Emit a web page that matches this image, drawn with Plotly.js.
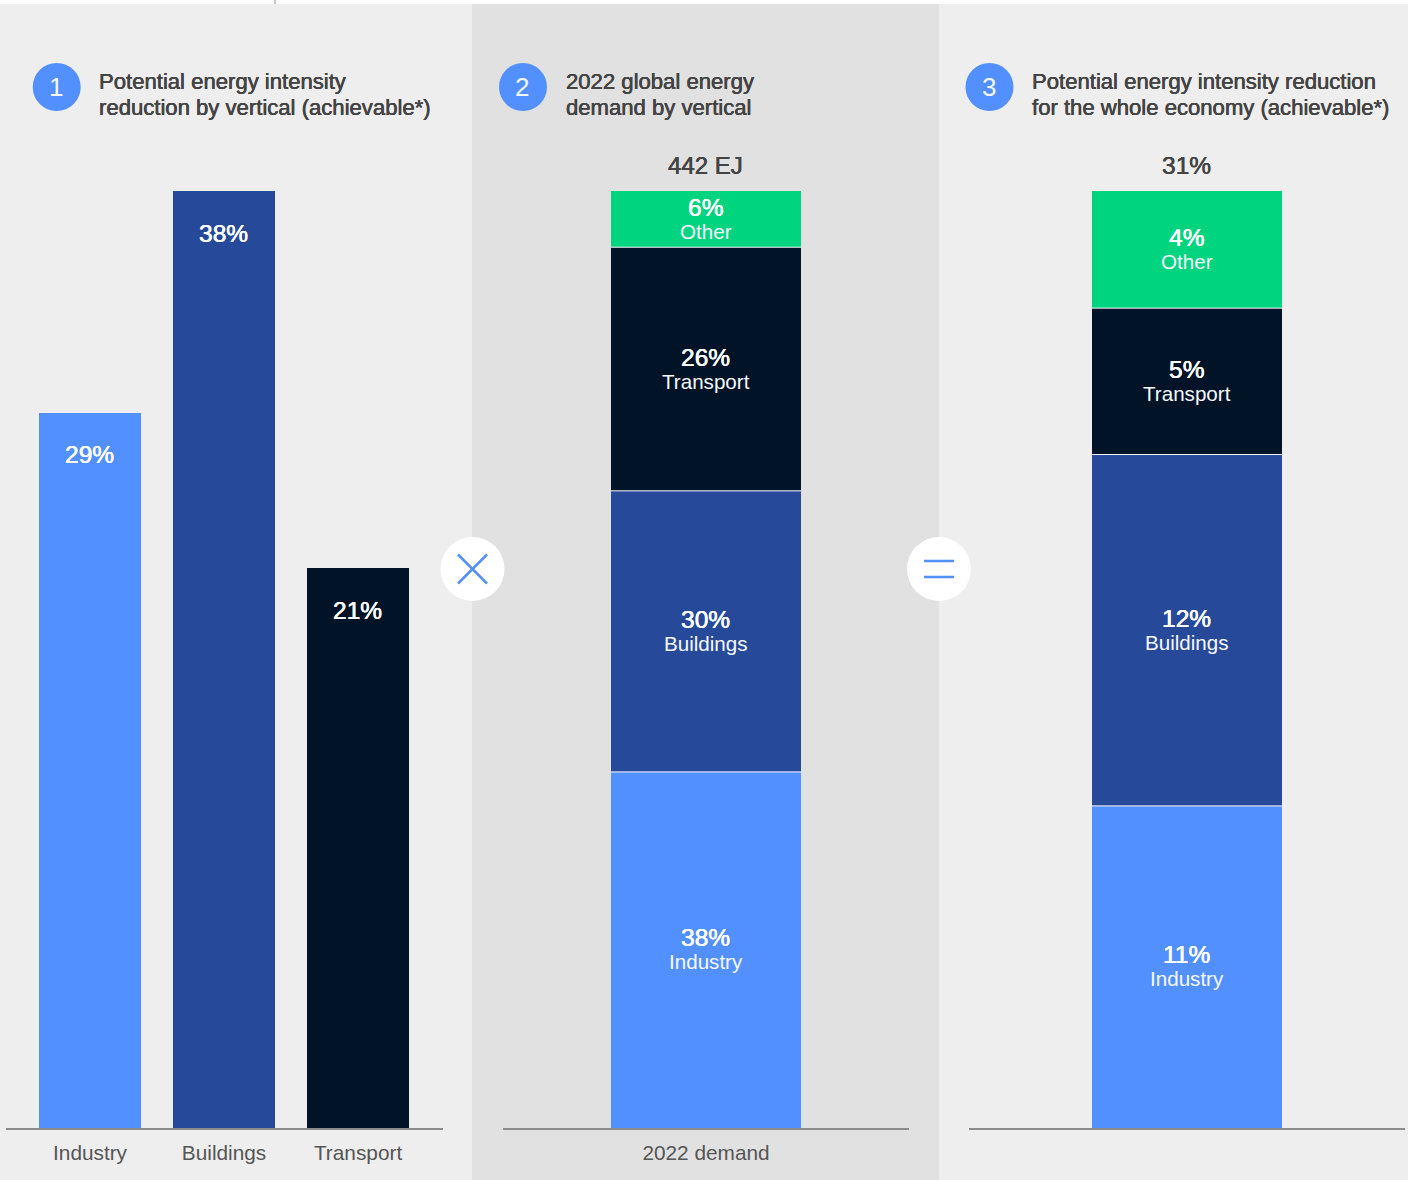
<!DOCTYPE html>
<html>
<head>
<meta charset="utf-8">
<script src="https://cdn.plot.ly/plotly-3.0.1.min.js"></script>
<style>html,body{margin:0;padding:0;background:#fff}#c{width:1408px;height:1180px}</style>
</head>
<body>
<div id="c"></div>
<script>
// Data
const verticals = ['Industry', 'Buildings', 'Transport'];
const panel1Heights = [29, 38, 22.7];
const panel1Labels = ['29%', '38%', '21%'];
const stackNames = ['Industry', 'Buildings', 'Transport', 'Other'];
const demandValues = [38, 30, 26, 6];
const reductionValues = [11, 12, 5, 4];
const demandCategory = ['2022 demand'];
const reductionCategory = ['2022 reduction'];
const demandTotal = '442 EJ';
const reductionTotal = '31%';
const colors = ['#528fff', '#264a99', '#011327', '#00d47e'];
const headings = [
  ['Potential energy intensity', 'reduction by vertical (achievable*)'],
  ['2022 global energy', 'demand by vertical'],
  ['Potential energy intensity reduction', 'for the whole economy (achievable*)']
];

// Page geometry
const W = 1408, H = 1180;
const px = x => x / W, py = y => 1 - y / H;
const FONT = '"Liberation Sans", Arial, sans-serif';
const INK = '#444444';
const BASE = 1128, TOP = 191;
const yDomain = [py(BASE), py(TOP)];
const medium = c => `0.3px 0 0 ${c}, -0.2px 0 0 ${c}`;

const traces = [];
traces.push({
  type: 'bar', x: verticals, y: panel1Heights, xaxis: 'x', yaxis: 'y',
  width: 0.761, marker: {color: colors.slice(0, 3)}, hoverinfo: 'skip', showlegend: false
});
stackNames.forEach((n, i) => {
  traces.push({type: 'bar', x: demandCategory, y: [demandValues[i]], xaxis: 'x2', yaxis: 'y2', name: n,
    width: 0.468, marker: {color: colors[i]}, hoverinfo: 'skip', showlegend: false});
  traces.push({type: 'bar', x: reductionCategory, y: [reductionValues[i]], xaxis: 'x3', yaxis: 'y3', name: n,
    width: 0.436, marker: {color: colors[i]}, hoverinfo: 'skip', showlegend: false});
});

const shapes = [];
const annotations = [];
const rect = (x0, y0, x1, y1, color, layer) => shapes.push({type: 'rect', xref: 'paper', yref: 'paper',
  x0: px(x0), x1: px(x1), y0: py(y0), y1: py(y1), fillcolor: color, line: {width: 0}, layer: layer || 'below'});
const circle = (cx, cy, r, color) => shapes.push({type: 'circle', xref: 'paper', yref: 'paper',
  x0: px(cx - r), x1: px(cx + r), y0: py(cy + r), y1: py(cy - r), fillcolor: color, line: {width: 0}, layer: 'above'});
const seg = (x0, y0, x1, y1, color, w) => shapes.push({type: 'line', xref: 'paper', yref: 'paper',
  x0: px(x0), x1: px(x1), y0: py(y0), y1: py(y1), line: {color: color, width: w}, layer: 'above'});
const label = (x, y, text, size, color, isMedium, anchor) => annotations.push({xref: 'paper', yref: 'paper',
  x: px(x), y: py(y), text: text, showarrow: false, xanchor: anchor || 'center', yanchor: 'middle',
  font: Object.assign({family: FONT, size: size, color: color}, isMedium ? {shadow: medium(color)} : {}), borderpad: 0, borderwidth: 0});

// Panels
rect(0, 4, 472, H, '#eeeeee');
rect(472, 4, 939, H, '#e1e1e1');
rect(939, 4, W, H, '#eeeeee');
seg(275, 0, 275, 4, '#8c8c8c', 1);

// Number badges and headings
[[56.7, 99], [523, 565.5], [989.5, 1032]].forEach((p, i) => {
  circle(p[0], 87, 24, '#528fff');
  label(p[0] - 0.7, 87, String(i + 1), 26, '#f4f8ff', false);
  label(p[1], 81.6, headings[i][0], 22.1, INK, true, 'left');
  label(p[1], 107.6, headings[i][1], 22.1, INK, true, 'left');
});

// Operators
circle(472.5, 569, 32, '#ffffff');
seg(458, 554.5, 487, 583.5, '#528fff', 2.5);
seg(458, 583.5, 487, 554.5, '#528fff', 2.5);
circle(939, 569, 32, '#ffffff');
seg(924, 561, 954, 561, '#528fff', 2.5);
seg(924, 577, 954, 577, '#528fff', 2.5);

// Totals
label(705.5, 165.6, demandTotal, 24, INK, true);
label(1186.5, 165.6, reductionTotal, 24.5, INK, true);

// Labels of the first panel
const pctFont = {family: FONT, size: 24.5, color: '#ffffff', shadow: medium('#ffffff')};
verticals.forEach((v, i) => annotations.push({xref: 'x', yref: 'y', x: v, y: panel1Heights[i],
  text: panel1Labels[i], showarrow: false, yanchor: 'middle', yshift: -42, xshift: -1, font: pctFont}));

// Stacked bars: segment labels and hairlines between segments
function stackDecor(values, cat, xa, ya, halfWidth) {
  let acc = 0;
  values.forEach((v, i) => {
    const mid = acc + v / 2;
    annotations.push({xref: xa, yref: ya, x: cat, y: mid, text: v + '%', showarrow: false,
      yanchor: 'middle', yshift: 12, xshift: -1, font: pctFont});
    annotations.push({xref: xa, yref: ya, x: cat, y: mid, text: stackNames[i], showarrow: false,
      yanchor: 'middle', yshift: -12, font: {family: FONT, size: 20.6, color: '#f6f9ff'}});
    acc += v;
    if (i < values.length - 1) shapes.push({type: 'line', xref: xa + ' domain', yref: ya,
      x0: 0.5 - halfWidth, x1: 0.5 + halfWidth, y0: acc, y1: acc,
      line: {color: '#ffffff', width: 1}, layer: 'above'});
  });
}
stackDecor(demandValues, demandCategory[0], 'x2', 'y2', 0.234);
stackDecor(reductionValues, reductionCategory[0], 'x3', 'y3', 0.218);

const xBase = {
  type: 'category', showgrid: false, zeroline: false, showline: true, linecolor: '#8c8c8c', linewidth: 2,
  ticks: 'outside', ticklen: 5, tickcolor: 'rgba(0,0,0,0)', fixedrange: true,
  tickfont: {family: FONT, size: 20.8, color: '#555555'}, anchor: 'free'
};
const yBase = {visible: false, domain: yDomain, fixedrange: true, showgrid: false, zeroline: false};

const layout = {
  width: W, height: H, margin: {l: 0, r: 0, t: 0, b: 0, pad: 0},
  paper_bgcolor: '#ffffff', plot_bgcolor: 'rgba(0,0,0,0)', barmode: 'stack', showlegend: false,
  xaxis: Object.assign({}, xBase, {domain: [px(6), px(443)], range: [-0.627, 2.634], anchor: 'y'}),
  xaxis2: Object.assign({}, xBase, {domain: [px(503), px(909)], range: [-0.5, 0.5], anchor: 'y2'}),
  xaxis3: Object.assign({}, xBase, {domain: [px(969), px(1405)], range: [-0.5, 0.5], anchor: 'y3', showticklabels: false}),
  yaxis: Object.assign({}, yBase, {range: [0, 38]}),
  yaxis2: Object.assign({}, yBase, {range: [0, 100]}),
  yaxis3: Object.assign({}, yBase, {range: [0, 32]}),
  shapes: shapes, annotations: annotations
};
Plotly.newPlot('c', traces, layout, {displayModeBar: false, responsive: false, staticPlot: true});
</script>
</body>
</html>
